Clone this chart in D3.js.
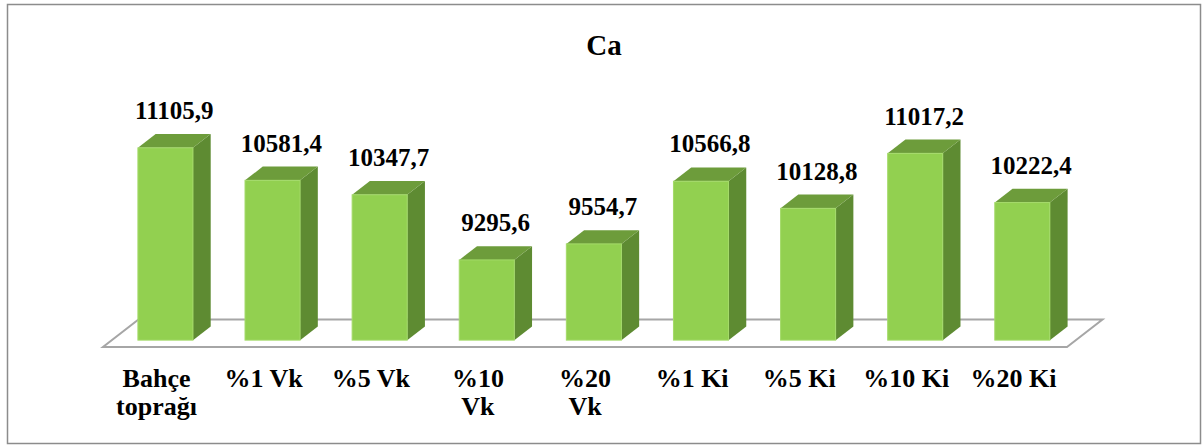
<!DOCTYPE html>
<html>
<head>
<meta charset="utf-8">
<script src="https://cdn.jsdelivr.net/npm/d3@7"></script>
</head>
<body style="margin:0">
<svg id="chart" width="1202" height="446" style="display:block"></svg>
<script>
// Calcium content per sample
const categories = ["Bahçe toprağı", "%1 Vk", "%5 Vk", "%10 Vk", "%20 Vk", "%1 Ki", "%5 Ki", "%10 Ki", "%20 Ki"];
const tickLines = [["Bahçe", "toprağı"], ["%1 Vk"], ["%5 Vk"], ["%10", "Vk"], ["%20", "Vk"], ["%1 Ki"], ["%5 Ki"], ["%10 Ki"], ["%20 Ki"]];
const values = [11105.9, 10581.4, 10347.7, 9295.6, 9554.7, 10566.8, 10128.8, 11017.2, 10222.4];
const valueLabels = ["11105,9", "10581,4", "10347,7", "9295,6", "9554,7", "10566,8", "10128,8", "11017,2", "10222,4"];
const title = "Ca";

const FONT = "Times New Roman";
const svg = d3.select("#chart");

// outer frame
svg.append("rect")
  .attr("x", 7.5).attr("y", 4.5)
  .attr("width", 1193).attr("height", 439)
  .attr("fill", "#fff").attr("stroke", "#8c8c8c").attr("stroke-width", 1.5);

// floor geometry: front edge and full depth vector
const floorLeft = 103, floorRight = 1067, floorFrontY = 347;
const depthX = 35.5, depthY = 27.5;
// bars occupy the middle half of the floor depth
const barDX = depthX / 2, barDY = depthY / 2;
const offX = depthX / 4, offY = depthY / 4;

const x = d3.scaleBand()
  .domain(categories)
  .range([floorLeft, floorRight])
  .paddingInner(0.486)
  .paddingOuter(0.243);

const baseY = floorFrontY - offY;
const y = d3.scaleLinear().domain([8000, 12000]).range([baseY, baseY - 247.6]);

// floor
svg.append("polygon")
  .attr("points", [
    [floorLeft, floorFrontY], [floorRight, floorFrontY],
    [floorRight + depthX, floorFrontY - depthY], [floorLeft + depthX, floorFrontY - depthY]
  ].map(p => p.join(",")).join(" "))
  .attr("fill", "#fff").attr("stroke", "#a6a6a6").attr("stroke-width", 2);

const w = x.bandwidth();
const bars = svg.append("g").selectAll("g")
  .data(categories.map((c, i) => ({ c, v: values[i], label: valueLabels[i] })))
  .join("g");

// right side face
bars.append("polygon")
  .attr("points", d => {
    const x0 = x(d.c) + offX + w, yt = y(d.v), yb = y(8000);
    return [[x0, yt], [x0 + barDX, yt - barDY], [x0 + barDX, yb - barDY], [x0, yb]].map(p => p.join(",")).join(" ");
  })
  .attr("fill", "#5e8b32");

// top face
bars.append("polygon")
  .attr("points", d => {
    const x0 = x(d.c) + offX, yt = y(d.v);
    return [[x0, yt], [x0 + barDX, yt - barDY], [x0 + w + barDX, yt - barDY], [x0 + w, yt]].map(p => p.join(",")).join(" ");
  })
  .attr("fill", "#6d9c3b");

// front face
bars.append("rect")
  .attr("x", d => x(d.c) + offX)
  .attr("y", d => y(d.v))
  .attr("width", w)
  .attr("height", d => y(8000) - y(d.v))
  .attr("fill", "#92d050")
  .attr("stroke", "#a4da6a").attr("stroke-width", 1);

// value labels
bars.append("text")
  .attr("x", d => x(d.c) + offX + w / 2 + barDX / 2)
  .attr("y", d => y(d.v) - barDY - 15)
  .attr("text-anchor", "middle")
  .style("font-family", FONT).style("font-weight", "bold")
  .style("font-size", "25px")
  .text(d => d.label);

// category labels, one text per line
const tickG = svg.append("g").selectAll("g")
  .data(categories)
  .join("g")
  .attr("transform", d => `translate(${x(d) + w / 2},387)`);

tickG.selectAll("text")
  .data((d, i) => tickLines[i])
  .join("text")
  .attr("x", 0)
  .attr("y", (d, j) => j * 28)
  .attr("text-anchor", "middle")
  .style("font-family", FONT).style("font-weight", "bold")
  .style("font-size", "26px")
  .text(d => d);

// title
svg.append("text")
  .attr("x", 604).attr("y", 55)
  .attr("text-anchor", "middle")
  .style("font-family", FONT).style("font-weight", "bold")
  .style("font-size", "29px")
  .text(title);
</script>
</body>
</html>
